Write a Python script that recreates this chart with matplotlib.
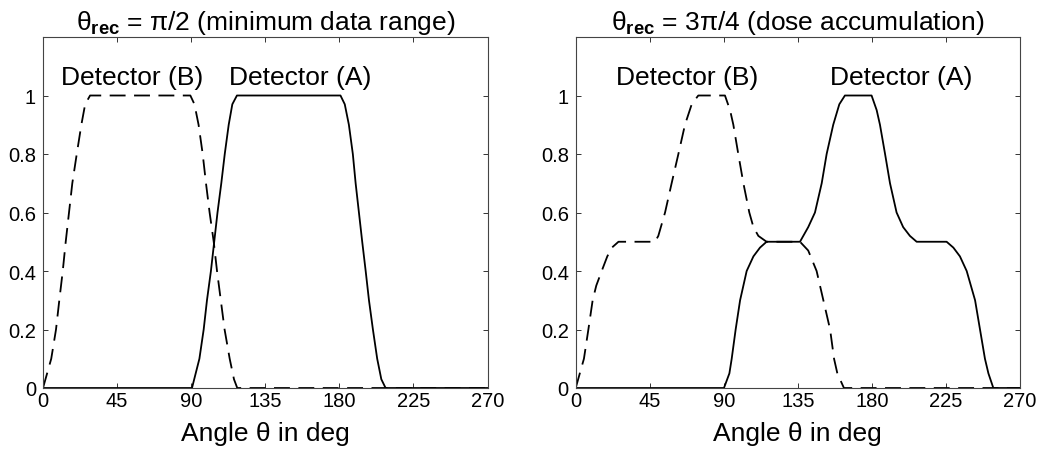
import matplotlib
matplotlib.use("Agg")
import matplotlib.pyplot as plt

plt.rcParams['font.family'] = ['Liberation Sans', 'DejaVu Sans']
plt.rcParams['mathtext.fontset'] = 'custom'
plt.rcParams['mathtext.rm'] = 'Liberation Sans'
plt.rcParams['mathtext.bf'] = 'Liberation Sans:bold'
plt.rcParams['mathtext.it'] = 'Liberation Sans:italic'

# angle in deg, weight of each detector
# left panel: theta_rec = pi/2
left_b_x = [0, 5, 7.9, 9.9, 12, 13.8, 15.8, 17.8, 20.5, 23.3, 25.6, 28.6,
            89.5, 92, 94.5, 97, 99, 101.2, 103.7, 105.7, 108, 110.3, 113.4, 116, 118, 270]
left_b_y = [0, 0.1, 0.2, 0.3, 0.4, 0.5, 0.6, 0.7, 0.8, 0.9, 0.97, 1,
            1, 0.97, 0.9, 0.8, 0.7, 0.6, 0.5, 0.4, 0.3, 0.2, 0.1, 0.03, 0, 0]
left_a_x = [0, 90.5, 95, 97.6, 99.6, 102, 104, 106, 108.3, 110.4, 112.8, 115, 117.8,
            180.7, 183.3, 185.8, 188.2, 189.9, 191.9, 193.9, 196, 198, 200.4, 203, 205.5, 208.1, 270]
left_a_y = [0, 0, 0.1, 0.2, 0.3, 0.4, 0.5, 0.6, 0.7, 0.8, 0.9, 0.97, 1,
            1, 0.97, 0.9, 0.8, 0.7, 0.6, 0.5, 0.4, 0.3, 0.2, 0.1, 0.03, 0, 0]

# right panel: theta_rec = 3pi/4
right_b_x = [0, 5, 7.7, 10.3, 12.5, 15.8, 19.2, 22, 26,
             48.2, 50.2, 54.3, 58.3, 62.4, 66.4, 70.5, 74.5,
             90.7, 93.8, 95.8, 98.8, 101.9, 105.5, 108, 111, 116,
             136.3, 141.3, 146.4, 150.5, 154.6, 157, 159, 163, 270]
right_b_y = [0, 0.1, 0.2, 0.3, 0.35, 0.4, 0.45, 0.48, 0.5,
             0.5, 0.52, 0.6, 0.7, 0.8, 0.9, 0.97, 1,
             1, 0.95, 0.9, 0.8, 0.7, 0.6, 0.55, 0.52, 0.5,
             0.5, 0.47, 0.4, 0.3, 0.2, 0.1, 0.05, 0, 0]
right_a_x = [0, 90.1, 93.4, 94.8, 97.2, 99.9, 103.9, 108, 112, 116,
             136.3, 141.3, 145.4, 149.5, 152.5, 156.5, 160.2, 163.6,
             179.8, 182.9, 184.9, 188, 191, 195, 199, 203.1, 207.2,
             225.4, 229.5, 233.5, 237.6, 242.7, 245.7, 248.7, 250.8, 253.8, 270]
right_a_y = [0, 0, 0.05, 0.1, 0.2, 0.3, 0.4, 0.45, 0.48, 0.5,
             0.5, 0.55, 0.6, 0.7, 0.8, 0.9, 0.97, 1,
             1, 0.95, 0.9, 0.8, 0.7, 0.6, 0.55, 0.52, 0.5,
             0.5, 0.48, 0.45, 0.4, 0.3, 0.2, 0.1, 0.05, 0, 0]

titles = [r'θ$_{\mathbf{rec}}$ = π/2 (minimum data range)',
          r'θ$_{\mathbf{rec}}$ = 3π/4 (dose accumulation)']
label_pos = [((54, 1.063), (156, 1.063)), ((67.6, 1.063), (197.8, 1.063))]
x_ticks = [0, 45, 90, 135, 180, 225, 270]
y_ticks = [0, 0.2, 0.4, 0.6, 0.8, 1]
y_tick_labels = ['0', '0.2', '0.4', '0.6', '0.8', '1']

fig = plt.figure(figsize=(10.39, 4.56), dpi=100)
ax1 = fig.add_axes([43 / 1039, 1 - 389 / 456, 444.5 / 1039, 351 / 456])
ax2 = fig.add_axes([575.7 / 1039, 1 - 389 / 456, 444.3 / 1039, 351 / 456])

panels = [(ax1, left_b_x, left_b_y, left_a_x, left_a_y),
          (ax2, right_b_x, right_b_y, right_a_x, right_a_y)]

for i, (ax, bx, by, ax_, ay) in enumerate(panels):
    ax.plot(bx, by, color='black', lw=1.3, ls=(0, (8.8, 4.7)))
    ax.plot(ax_, ay, color='black', lw=1.3)
    ax.set_xlim(0, 270)
    ax.set_ylim(0, 1.2)
    ax.set_xticks(x_ticks)
    ax.set_yticks(y_ticks)
    ax.set_yticklabels(y_tick_labels)
    ax.tick_params(direction='in', top=True, right=True, length=3.5,
                   width=0.7, labelsize=14.5, color='#333333')
    ax.tick_params(axis='x', pad=2)
    ax.tick_params(axis='y', pad=5)
    for s in ax.spines.values():
        s.set_linewidth(0.8)
        s.set_color('#444444')
    ax.set_xlabel('Angle θ in deg', fontsize=19, labelpad=8)
    ax.set_title(titles[i], fontsize=19, pad=6)
    (bxp, byp), (axp, ayp) = label_pos[i]
    ax.text(bxp, byp, 'Detector (B)', fontsize=19, ha='center', va='center')
    ax.text(axp, ayp, 'Detector (A)', fontsize=19, ha='center', va='center')

fig.savefig('out.png', dpi=100)
